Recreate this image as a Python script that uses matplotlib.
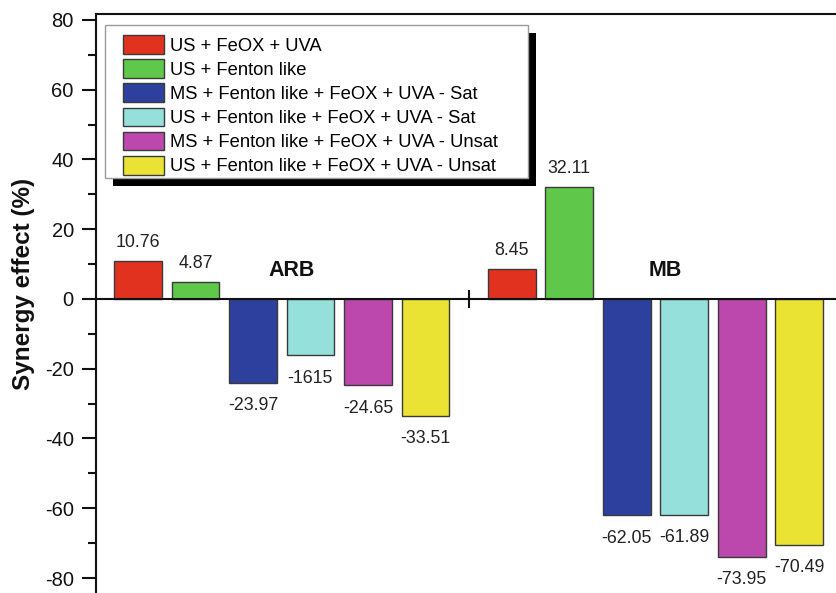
import matplotlib
matplotlib.use("Agg")
import matplotlib.pyplot as plt
from matplotlib.patches import Rectangle

plt.rcParams['font.family'] = ['Liberation Sans', 'DejaVu Sans']
plt.rcParams['axes.unicode_minus'] = False

# Data
groups = ['ARB', 'MB']
treatments = [
    'US + FeOX + UVA',
    'US + Fenton like',
    'MS + Fenton like + FeOX + UVA - Sat',
    'US + Fenton like + FeOX + UVA - Sat',
    'MS + Fenton like + FeOX + UVA - Unsat',
    'US + Fenton like + FeOX + UVA - Unsat',
]
arb_values = [10.76, 4.87, -23.97, -16.15, -24.65, -33.51]
mb_values = [8.45, 32.11, -62.05, -61.89, -73.95, -70.49]
arb_labels = ['10.76', '4.87', '-23.97', '-1615', '-24.65', '-33.51']
mb_labels = ['8.45', '32.11', '-62.05', '-61.89', '-73.95', '-70.49']
y_ticks = [-80, -60, -40, -20, 0, 20, 40, 60, 80]

colors = ['#E1311F', '#5FC84B', '#2D409E', '#95E0DA', '#BC48AD', '#EBE333']

W, H = 837, 593
fig = plt.figure(figsize=(W / 100, H / 100), dpi=100)
ax = fig.add_axes([96 / W, 0, (W - 96) / W, (H - 14) / H])

group_starts = [0.0, 6.5]
bar_width = 0.83

for i, name in enumerate(treatments):
    xs = [group_starts[0] + i, group_starts[1] + i]
    vals = [arb_values[i], mb_values[i]]
    ax.bar(xs, vals, width=bar_width, color=colors[i], edgecolor='#3a3a3a',
           linewidth=1.0, label=name, zorder=2)

# value labels
for start, vals, labels in [(group_starts[0], arb_values, arb_labels),
                            (group_starts[1], mb_values, mb_labels)]:
    for i, (v, lab) in enumerate(zip(vals, labels)):
        if v >= 0:
            ax.annotate(lab, (start + i, v), xytext=(0, 7.5), textcoords='offset points',
                        ha='center', va='bottom', fontsize=12.8, color='#222222')
        else:
            ax.annotate(lab, (start + i, v), xytext=(0, -10.5), textcoords='offset points',
                        ha='center', va='top', fontsize=12.8, color='#222222')

# group names
for start, g in zip(group_starts, groups):
    ax.text(start + 2.5 + 0.17, 8.3, g, ha='center', va='center',
            fontsize=15.5, fontweight='bold', color='#111111')

ax.set_xlim(-0.729, 12.157)
ax.set_ylim(-84.3, 81.7)

# axes styling
ax.spines['right'].set_visible(False)
ax.spines['bottom'].set_position(('data', 0))
for s in ['left', 'top', 'bottom']:
    ax.spines[s].set_linewidth(1.5)
    ax.spines[s].set_color('#111111')

ax.set_yticks(y_ticks)
ax.set_yticks(range(-80, 81, 10), minor=True)
ax.tick_params(axis='y', which='major', direction='out', length=10, width=1.5,
               labelsize=14.5, pad=6, colors='#111111')
ax.tick_params(axis='y', which='minor', direction='out', length=6, width=1.5,
               colors='#111111')
ax.set_xticks([(group_starts[0] + 5 + group_starts[1]) / 2])
ax.set_xticklabels([])
ax.tick_params(axis='x', which='major', direction='inout', length=13, width=1.5,
               colors='#111111', top=False)

fig.text(24 / W, 1 - 284 / H, 'Synergy effect (%)', rotation=90, ha='center',
         va='center', fontsize=17.5, fontweight='bold', color='#111111')

# legend with a solid drop shadow
fs = 13.2
fpx = fs * 100 / 72
leg = ax.legend(loc='upper left', bbox_to_anchor=(123 / W, 1 - 35 / H),
                bbox_transform=fig.transFigure, frameon=False, borderpad=0,
                borderaxespad=0, handlelength=41 / fpx, handleheight=1.2,
                handletextpad=0.33, labelspacing=0.25, fontsize=fs)
leg.set_zorder(6)

fx0, fy0, fx1, fy1 = 105, 25, 528, 178
shadow = Rectangle(((fx0 + 8) / W, 1 - (fy1 + 8) / H), (fx1 - fx0) / W, (fy1 - fy0) / H,
                   transform=fig.transFigure, facecolor='black', edgecolor='none',
                   zorder=4, clip_on=False)
frame = Rectangle((fx0 / W, 1 - fy1 / H), (fx1 - fx0) / W, (fy1 - fy0) / H,
                  transform=fig.transFigure, facecolor='white', edgecolor='#9a9a9a',
                  linewidth=1.0, zorder=5, clip_on=False)
ax.add_artist(shadow)
ax.add_artist(frame)

fig.savefig('out.png', dpi=100)
